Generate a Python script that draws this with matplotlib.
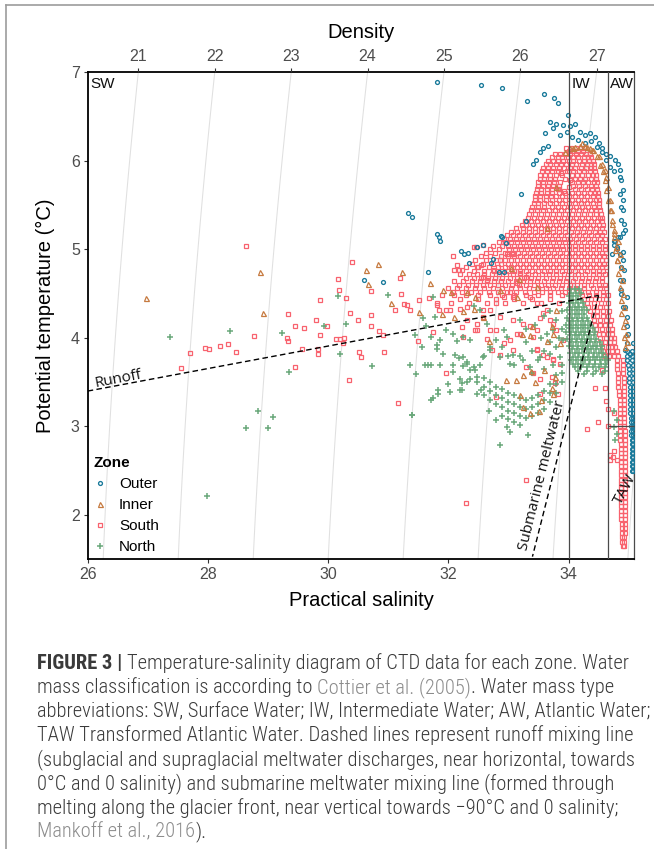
import numpy as np
import matplotlib
matplotlib.use("Agg")
import matplotlib.pyplot as plt
from matplotlib.lines import Line2D
from matplotlib import font_manager

plt.rcParams['font.family'] = ['Liberation Sans', 'DejaVu Sans']

# ---------------- data (salinity, temperature) ----------------
zones = ['Outer', 'Inner', 'South', 'North']
zone_colors = {'Outer': '#18799a', 'Inner': '#c67a40', 'South': '#f8626e', 'North': '#6aa87b'}

outer_scatter = [
    (31.82, 6.89), (32.54, 6.86), (32.90, 6.82), (33.31, 6.68), (33.59, 6.75),
    (33.76, 6.71), (33.83, 6.65), (33.99, 6.52), (33.69, 6.44), (33.74, 6.37),
    (33.61, 6.31), (33.66, 6.17), (33.57, 6.14), (33.53, 6.10), (33.46, 6.01),
    (33.41, 5.97), (33.21, 5.62), (33.29, 5.32), (32.89, 5.14), (31.33, 5.41),
    (31.40, 5.37), (31.81, 5.17), (31.85, 5.14), (31.87, 5.10), (32.57, 5.05),
    (32.48, 5.03), (32.88, 5.15), (32.96, 5.07), (32.21, 4.98), (32.26, 4.95),
    (32.32, 4.96), (32.34, 4.85), (32.74, 4.89), (32.71, 4.85), (32.85, 4.75),
    (32.93, 4.74), (31.67, 4.75), (30.60, 4.65), (30.92, 4.63), (33.86, 6.29),
]
outer_profile = [
    (33.80, 6.42), (33.91, 6.40), (34.02, 6.39), (34.11, 6.42), (34.19, 6.33),
    (34.27, 6.29), (34.36, 6.31), (34.44, 6.27), (34.50, 6.20), (34.56, 6.14),
    (34.63, 6.08), (34.69, 6.05), (34.77, 6.01), (34.83, 5.97), (34.86, 5.90),
    (33.97, 6.33), (34.05, 6.27), (34.16, 6.23), (34.27, 6.20), (34.38, 6.22),
    (34.47, 6.16), (34.55, 6.10), (34.63, 6.01), (34.69, 5.93), (34.75, 5.88),
    (34.88, 5.78), (34.86, 5.82), (34.91, 5.67), (34.86, 5.63), (34.91, 5.56),
    (34.87, 5.48), (34.90, 5.44), (34.88, 5.33), (34.92, 5.29), (34.94, 5.22),
    (34.91, 5.18), (34.86, 5.14), (34.83, 5.14), (34.77, 5.10), (34.75, 5.09),
    (34.80, 5.03), (34.75, 5.05), (34.80, 5.00), (34.86, 4.95), (34.72, 4.95),
    (34.91, 4.97), (34.90, 4.88), (34.88, 4.80), (34.92, 4.77), (34.86, 4.65),
    (34.91, 4.65), (34.88, 4.54), (34.88, 4.50), (34.97, 4.46), (34.91, 4.35),
    (34.94, 4.35), (34.97, 4.24), (34.98, 4.13), (34.99, 4.05), (34.97, 3.94),
    (34.94, 3.86), (35.02, 3.82), (35.08, 3.94),
]
outer_deep_t = [3.85, 3.80, 3.75, 3.70, 3.65, 3.60, 3.55, 3.50, 3.45, 3.40,
                3.35, 3.30, 3.25, 3.20, 3.15, 3.10, 3.05, 3.00, 2.95, 2.90,
                2.85, 2.80, 2.75, 2.70, 2.65, 2.60, 2.55, 2.50]
outer_deep_s_left = [34.97, 34.97, 34.98, 34.99, 35.00, 35.00, 35.01, 35.01, 35.02, 35.02,
                     35.02, 35.03, 35.03, 35.03, 35.03, 35.04, 35.04, 35.04, 35.04, 35.04,
                     35.05, 35.05, 35.05, 35.05, 35.05, 35.05, 35.05, 35.05]
outer_deep_s_right = [35.05, 35.06, 35.06, 35.07, 35.07, 35.07, 35.07, 35.08, 35.08, 35.08,
                      35.08, 35.08, 35.08, 35.08, 35.08, 35.08, 35.08, 35.08, 35.08, 35.08,
                      35.08, 35.08, 35.08, 35.08, 35.08, 35.08, 35.08, 35.07]

inner_profile = [
    (34.02, 6.15), (34.08, 6.14), (34.11, 6.16), (34.19, 6.17), (34.22, 6.20),
    (34.30, 6.16), (34.39, 6.12), (34.41, 6.12), (34.47, 6.05), (34.50, 6.05),
    (34.52, 5.95), (34.55, 5.97), (34.58, 5.88), (34.61, 5.90), (34.61, 5.78),
    (34.63, 5.82), (34.63, 5.67), (34.66, 5.71), (34.66, 5.56), (34.69, 5.56),
    (34.70, 5.44), (34.69, 5.44), (34.72, 5.33), (34.72, 5.29), (34.75, 5.22),
    (34.75, 5.14), (34.76, 5.18), (34.77, 4.99), (34.79, 5.03), (34.80, 4.88),
    (34.81, 4.88), (34.83, 4.73), (34.86, 4.58), (34.87, 4.43), (34.88, 4.28),
    (34.91, 4.13), (34.92, 4.01), (34.94, 3.90), (34.82, 5.10), (34.85, 4.95),
    (34.87, 4.80), (34.89, 4.65), (34.91, 4.50), (34.93, 4.35), (34.94, 4.20),
    (34.96, 4.05), (34.97, 3.95), (33.95, 6.10), (34.27, 6.17), (34.35, 6.14),
]
inner_scatter = [
    (26.97, 4.45), (28.87, 4.74), (28.91, 4.28), (30.63, 4.77), (30.67, 4.61),
    (30.83, 4.84), (31.04, 4.40), (31.23, 4.74), (31.52, 4.29), (31.70, 4.62),
    (31.90, 4.27), (31.91, 4.54), (32.04, 4.52), (32.09, 4.24), (32.25, 4.30),
    (32.31, 4.52), (32.42, 4.33), (32.45, 4.46), (32.57, 4.24), (32.67, 3.97),
    (32.86, 4.54), (32.96, 3.53), (33.04, 4.79), (33.13, 3.52), (33.14, 4.46),
    (33.17, 4.66), (33.19, 3.35), (33.22, 4.05), (33.25, 3.58), (33.25, 3.22),
    (33.36, 3.15), (33.36, 4.03), (33.38, 3.63), (33.39, 4.14), (33.44, 3.50),
    (33.47, 4.58), (33.51, 3.18), (33.55, 3.30), (33.59, 3.64), (33.64, 3.97),
    (33.64, 5.24), (33.72, 3.43), (33.72, 4.14), (33.75, 3.37), (33.75, 4.05),
    (33.77, 3.56), (33.80, 4.31), (33.80, 5.71), (33.86, 3.94),
]

south_scatter = [
    (27.56, 3.66), (27.71, 3.83), (27.96, 3.89), (28.02, 3.88), (28.20, 3.91),
    (28.34, 3.93), (28.47, 3.84), (28.64, 5.04), (28.76, 4.02), (29.31, 4.00),
    (29.33, 3.97), (29.34, 4.27), (29.45, 4.13), (29.45, 3.67), (29.56, 3.88),
    (29.60, 4.11), (29.80, 4.20), (29.84, 3.88), (29.84, 3.82), (29.87, 4.03),
    (29.87, 4.43), (29.98, 4.13), (30.13, 3.99), (30.16, 4.67), (30.18, 4.54),
    (30.20, 3.99), (30.25, 3.94), (30.27, 4.00), (30.29, 4.45), (30.34, 3.53),
    (30.36, 4.28), (30.39, 4.86), (30.50, 4.20), (30.52, 3.84), (30.54, 3.78),
    (30.71, 4.53), (30.71, 4.26), (30.71, 4.14), (30.85, 4.08), (30.92, 4.03),
    (30.93, 3.84), (31.11, 4.31), (31.16, 3.26), (31.20, 4.68), (31.22, 4.50),
    (31.27, 4.38), (31.31, 4.37), (31.36, 4.31), (31.50, 3.96), (31.52, 4.43),
    (31.68, 4.45), (31.75, 4.07), (31.81, 4.37), (31.84, 4.31), (31.97, 4.31),
    (31.97, 3.60), (32.07, 4.92), (32.10, 4.77), (32.14, 4.82), (32.17, 4.77),
    (32.23, 4.77), (32.46, 5.03), (32.20, 4.33), (32.31, 4.20), (32.45, 4.09),
    (32.25, 4.01), (32.22, 4.12), (32.29, 2.14), (32.64, 3.99), (32.72, 3.86),
    (32.80, 3.33), (32.86, 3.81), (33.08, 3.86), (33.19, 4.05), (33.47, 3.86),
    (33.58, 3.81), (33.75, 3.75), (33.86, 3.71), (33.08, 4.20), (32.86, 4.24),
    (32.58, 4.31), (32.31, 4.35), (32.03, 4.31), (31.81, 4.39), (33.53, 4.22),
    (33.64, 4.31), (33.75, 4.16), (33.30, 3.67), (33.41, 3.60), (33.72, 3.56),
    (33.53, 3.54), (33.78, 3.49), (33.53, 3.37), (33.83, 3.37), (33.30, 2.39),
    (34.30, 2.97), (34.49, 3.05), (34.44, 3.44), (34.61, 3.43), (34.62, 3.29),
    (34.66, 3.20), (34.66, 3.01), (34.55, 3.64), (34.75, 3.15), (34.69, 2.68),
    (34.76, 2.72), (34.74, 2.66), (34.69, 2.62), (34.80, 2.62),
    (32.42, 5.03), (32.58, 5.05), (32.47, 4.80), (32.55, 4.82), (32.58, 4.69),
    (32.64, 4.65), (32.75, 4.77), (32.86, 4.88), (32.97, 4.95), (33.08, 4.95),
    (33.19, 4.73), (33.30, 4.69), (33.14, 4.62), (33.03, 4.52), (32.92, 4.46),
    (32.80, 4.39), (32.69, 4.31), (32.58, 4.24), (32.47, 4.16), (32.47, 4.09),
    (33.08, 4.46), (33.36, 4.46), (33.47, 4.39), (33.58, 4.28), (33.69, 4.20),
    (33.80, 4.09), (33.91, 3.98), (33.47, 4.09), (33.36, 4.13), (33.25, 4.16),
    (33.14, 4.05), (33.03, 3.98), (32.92, 3.94), (32.69, 4.09), (32.80, 4.09),
    (33.41, 4.01), (33.47, 3.88), (33.64, 3.79), (33.75, 3.76),
    (33.86, 5.76), (33.95, 5.80), (34.00, 5.70), (33.92, 5.66), (33.88, 5.86),
    (34.00, 5.88), (33.84, 5.68), (34.02, 5.78),
]
south_dome_t = [6.15, 6.08, 6.00, 5.92, 5.84, 5.76, 5.68, 5.60, 5.52, 5.44, 5.36,
                5.28, 5.20, 5.12, 5.04, 4.96, 4.88, 4.80, 4.72, 4.64, 4.56, 4.48,
                4.40, 4.30, 4.20, 4.10, 4.00, 3.90, 3.80]
south_dome_s = [
    [33.96, 34.04, 34.12, 34.20, 34.26],
    [33.78, 33.86, 33.95, 34.03, 34.12, 34.20, 34.29, 34.35],
    [33.66, 33.74, 33.83, 33.91, 34.00, 34.08, 34.17, 34.26, 34.34, 34.40],
    [33.58, 33.66, 33.75, 33.84, 33.93, 34.02, 34.11, 34.20, 34.29, 34.38, 34.43],
    [33.53, 33.61, 33.70, 33.80, 33.90, 34.05, 34.14, 34.23, 34.32, 34.41, 34.46],
    [33.50, 33.58, 33.67, 33.76, 34.06, 34.15, 34.24, 34.33, 34.42, 34.47],
    [33.47, 33.55, 33.64, 33.73, 33.82, 34.10, 34.20, 34.30, 34.39, 34.48],
    [33.45, 33.53, 33.62, 33.71, 33.80, 33.90, 34.00, 34.10, 34.20, 34.30, 34.40, 34.49],
    [33.42, 33.50, 33.60, 33.70, 33.80, 33.90, 34.00, 34.10, 34.20, 34.30, 34.40, 34.50],
    [33.38, 33.47, 33.57, 33.67, 33.77, 33.87, 33.97, 34.07, 34.17, 34.27, 34.37, 34.46, 34.53],
    [33.32, 33.42, 33.52, 33.62, 33.72, 33.82, 33.92, 34.02, 34.12, 34.22, 34.32, 34.42, 34.52, 34.56],
    [33.22, 33.30, 33.40, 33.50, 33.60, 33.70, 33.80, 33.90, 34.00, 34.10, 34.20, 34.30, 34.40,
     34.50, 34.57],
    [33.05, 33.14, 33.24, 33.34, 33.44, 33.54, 33.64, 33.74, 33.84, 33.94, 34.04, 34.14, 34.24,
     34.34, 34.44, 34.52, 34.59],
    [32.92, 33.02, 33.12, 33.22, 33.32, 33.42, 33.52, 33.62, 33.72, 33.82, 33.92, 34.02, 34.12,
     34.22, 34.32, 34.42, 34.52, 34.60],
    [32.75, 32.90, 33.00, 33.10, 33.20, 33.30, 33.40, 33.50, 33.60, 33.70, 33.80, 33.90, 34.00,
     34.10, 34.20, 34.30, 34.40, 34.50, 34.61],
    [32.62, 32.78, 32.95, 33.06, 33.16, 33.26, 33.36, 33.46, 33.56, 33.66, 33.76, 33.86, 33.96,
     34.06, 34.16, 34.26, 34.36, 34.46, 34.56, 34.62],
    [32.45, 32.62, 32.80, 32.95, 33.05, 33.15, 33.25, 33.35, 33.45, 33.55, 33.65, 33.75, 33.85,
     33.95, 34.05, 34.15, 34.25, 34.35, 34.45, 34.55, 34.62],
    [32.30, 32.50, 32.68, 32.82, 32.95, 33.05, 33.15, 33.25, 33.35, 33.45, 33.55, 33.65, 33.75,
     33.85, 33.95, 34.05, 34.15, 34.25, 34.35, 34.45, 34.55, 34.62],
    [32.20, 32.35, 32.48, 32.60, 32.72, 32.84, 32.96, 33.08, 33.20, 33.32, 33.44, 33.56, 33.68,
     33.80, 33.92, 34.04, 34.16, 34.28, 34.40, 34.50, 34.60],
    [32.10, 32.25, 32.40, 32.52, 32.64, 32.76, 32.88, 33.00, 33.12, 33.24, 33.36, 33.48, 33.60,
     33.72, 33.84, 33.96, 34.08, 34.20, 34.32, 34.44, 34.56],
    [32.00, 32.15, 32.30, 32.45, 32.60, 32.75, 32.90, 33.05, 33.20, 33.35, 33.50, 33.62, 33.75,
     33.88, 34.00, 34.12, 34.26, 34.40, 34.52, 34.62],
    [31.90, 32.10, 32.30, 32.50, 32.70, 32.90, 33.10, 33.30, 33.50, 33.70, 33.90, 34.22, 34.34,
     34.46, 34.58, 34.66],
    [32.05, 32.35, 32.65, 32.95, 33.25, 33.55, 33.85, 34.30, 34.42, 34.54, 34.66],
    [34.36, 34.48, 34.58, 34.68],
    [34.42, 34.52, 34.62, 34.70],
    [34.46, 34.56, 34.66, 34.72],
    [34.52, 34.62, 34.70, 34.76],
    [34.56, 34.65, 34.72, 34.78],
    [34.60, 34.68, 34.76, 34.82],
]
# second, staggered set of casts filling the dome
south_dome2_t = [6.11, 6.04, 5.96, 5.88, 5.80, 5.72, 5.64, 5.56, 5.48, 5.40, 5.32,
                 5.24, 5.16, 5.08, 5.00, 4.92, 4.84, 4.76, 4.68, 4.60, 4.52, 4.44,
                 4.35, 4.25, 4.15, 4.05, 3.95, 3.85]
south_dome2_s = [
    [34.00, 34.08, 34.16, 34.24],
    [33.72, 33.82, 33.90, 33.99, 34.08, 34.16, 34.25, 34.33, 34.38],
    [33.62, 33.70, 33.79, 33.88, 33.96, 34.05, 34.13, 34.22, 34.30, 34.37, 34.42],
    [33.56, 33.64, 33.73, 33.82, 33.97, 34.08, 34.17, 34.26, 34.35, 34.44],
    [33.52, 33.60, 33.69, 33.78, 34.10, 34.19, 34.28, 34.37, 34.45],
    [33.49, 33.57, 33.66, 33.75, 33.84, 34.08, 34.18, 34.28, 34.37, 34.46],
    [33.46, 33.55, 33.64, 33.73, 33.84, 33.95, 34.05, 34.15, 34.25, 34.35, 34.44, 34.49],
    [33.44, 33.52, 33.62, 33.72, 33.85, 33.95, 34.05, 34.15, 34.25, 34.35, 34.45, 34.50],
    [33.40, 33.50, 33.60, 33.72, 33.82, 33.92, 34.02, 34.12, 34.22, 34.32, 34.42, 34.51],
    [33.35, 33.45, 33.55, 33.65, 33.75, 33.85, 33.95, 34.05, 34.15, 34.25, 34.35, 34.45, 34.54],
    [33.27, 33.37, 33.47, 33.57, 33.67, 33.77, 33.87, 33.97, 34.07, 34.17, 34.27, 34.37, 34.47,
     34.56],
    [33.12, 33.25, 33.35, 33.45, 33.55, 33.65, 33.75, 33.85, 33.95, 34.05, 34.15, 34.25, 34.35,
     34.45, 34.55],
    [32.98, 33.07, 33.17, 33.27, 33.37, 33.47, 33.57, 33.67, 33.77, 33.87, 33.97, 34.07, 34.17,
     34.27, 34.37, 34.47, 34.56],
    [32.85, 32.95, 33.05, 33.15, 33.25, 33.35, 33.45, 33.55, 33.65, 33.75, 33.85, 33.95, 34.05,
     34.15, 34.25, 34.35, 34.45, 34.56],
    [32.70, 32.85, 33.01, 33.11, 33.21, 33.31, 33.41, 33.51, 33.61, 33.71, 33.81, 33.91, 34.01,
     34.11, 34.21, 34.31, 34.41, 34.51, 34.60],
    [32.55, 32.70, 32.87, 33.00, 33.10, 33.20, 33.30, 33.40, 33.50, 33.60, 33.70, 33.80, 33.90,
     34.00, 34.10, 34.20, 34.30, 34.40, 34.50, 34.59],
    [32.40, 32.58, 32.75, 32.88, 33.00, 33.10, 33.20, 33.30, 33.40, 33.50, 33.60, 33.70, 33.80,
     33.90, 34.00, 34.10, 34.20, 34.30, 34.40, 34.50, 34.59],
    [32.42, 32.60, 32.76, 32.89, 33.00, 33.10, 33.20, 33.30, 33.40, 33.50, 33.60, 33.70, 33.80,
     33.90, 34.00, 34.10, 34.20, 34.30, 34.40, 34.50, 34.58],
    [32.30, 32.42, 32.54, 32.66, 32.78, 32.90, 33.02, 33.14, 33.26, 33.38, 33.50, 33.62, 33.74,
     33.86, 33.98, 34.10, 34.22, 34.34, 34.46, 34.56],
    [32.18, 32.32, 32.46, 32.58, 32.70, 32.82, 32.94, 33.06, 33.18, 33.30, 33.42, 33.54, 33.66,
     33.78, 33.90, 34.02, 34.14, 34.26, 34.38, 34.50, 34.60],
    [32.08, 32.22, 32.38, 32.52, 32.68, 32.82, 32.98, 33.12, 33.28, 33.42, 33.56, 33.70, 33.82,
     33.95, 34.20, 34.32, 34.45, 34.58],
    [32.20, 32.50, 32.80, 33.10, 33.40, 33.70, 34.26, 34.38, 34.50, 34.62],
    [34.33, 34.43, 34.53, 34.63],
    [34.40, 34.48, 34.57, 34.66],
    [34.44, 34.52, 34.61, 34.69],
    [34.50, 34.58, 34.66, 34.73],
    [34.54, 34.61, 34.69, 34.76],
    [34.58, 34.65, 34.73, 34.80],
]
south_taw_t = [3.75, 3.70, 3.65, 3.60, 3.55, 3.50, 3.45, 3.40, 3.35, 3.30, 3.25,
               3.20, 3.15, 3.10, 3.05, 3.00, 2.95, 2.90, 2.85, 2.80, 2.75, 2.70,
               2.65, 2.60, 2.55, 2.50, 2.45, 2.40, 2.35, 2.30, 2.25, 2.20, 2.15,
               2.10, 2.05, 2.00, 1.95, 1.90, 1.85, 1.80, 1.75, 1.70, 1.65]
south_taw_s_left = [34.80, 34.81, 34.81, 34.82, 34.82, 34.83, 34.83, 34.84, 34.84, 34.85, 34.85,
                    34.85, 34.85, 34.86, 34.86, 34.86, 34.86, 34.86, 34.86, 34.87, 34.87, 34.87,
                    34.87, 34.87, 34.87, 34.87, 34.87, 34.88, 34.88, 34.88, 34.88, 34.88, 34.88,
                    34.88, 34.88, 34.88, 34.88, 34.89, 34.89, 34.89, 34.89, 34.89, 34.90]
south_taw_s_right = [34.90, 34.90, 34.91, 34.91, 34.92, 34.92, 34.92, 34.92, 34.93, 34.93, 34.93,
                     34.93, 34.93, 34.93, 34.93, 34.93, 34.94, 34.94, 34.94, 34.94, 34.94, 34.94,
                     34.94, 34.94, 34.94, 34.94, 34.94, 34.94, 34.94, 34.94, 34.94, 34.94, 34.94,
                     34.94, 34.94, 34.94, 34.94, 34.94, 34.94, 34.94, 34.93, 34.93, 34.92]

north_scatter = [
    (27.37, 4.01), (27.99, 2.22), (28.36, 4.08), (28.64, 2.98), (28.83, 3.18),
    (29.00, 2.98), (29.09, 3.11), (29.24, 4.06), (29.35, 3.61), (29.94, 4.14),
    (30.16, 4.47), (30.19, 3.82), (30.30, 4.16), (30.73, 3.68), (30.99, 4.48),
    (31.36, 3.70), (31.40, 3.13), (31.45, 4.03), (31.47, 3.59), (31.58, 4.22),
    (31.63, 4.13), (31.66, 3.70), (31.72, 4.01), (31.72, 3.30), (31.75, 4.46),
    (31.78, 4.24), (31.81, 3.92), (31.83, 3.37), (31.86, 3.98), (31.87, 3.69),
    (31.97, 4.09), (32.00, 3.48), (32.07, 3.70), (32.08, 4.05), (32.11, 3.81),
    (32.14, 3.96), (32.19, 3.41), (32.22, 3.49), (32.25, 4.01), (32.25, 3.79),
    (32.25, 3.68), (32.31, 3.71), (32.31, 3.50), (32.36, 3.98), (32.36, 3.64),
    (32.36, 3.54), (32.42, 3.67), (32.42, 4.36), (32.44, 3.64), (32.47, 3.50),
    (32.47, 3.37), (31.39, 3.13), (31.75, 3.32), (32.03, 3.39), (31.83, 3.41),
    (32.22, 3.41), (32.19, 3.54), (32.08, 3.62), (32.47, 3.56), (32.55, 3.41),
    (32.86, 2.79), (33.03, 2.94), (33.33, 2.90), (32.67, 3.18), (32.80, 3.07),
    (32.97, 2.99), (31.72, 3.69), (31.61, 3.69), (31.56, 3.90), (31.81, 3.88),
    (31.92, 3.82), (32.17, 3.77), (32.31, 3.73), (32.53, 3.69), (32.53, 4.31),
    (32.64, 4.16), (32.92, 4.09), (32.97, 4.01), (32.80, 3.98), (32.69, 3.86),
    (32.58, 3.79), (32.86, 3.79), (33.08, 3.81), (33.25, 3.75), (33.03, 3.71),
    (33.36, 3.67), (33.53, 3.79), (33.69, 3.82), (33.80, 3.90), (33.91, 3.98),
    (33.86, 3.79), (33.75, 4.09), (33.20, 4.20), (33.30, 4.10), (33.45, 4.15),
    (33.55, 4.00), (33.65, 4.05), (33.70, 3.95), (33.85, 4.00), (33.60, 3.85),
    (33.50, 3.75), (33.40, 3.85), (33.30, 3.95), (33.20, 3.80), (33.10, 3.70),
    (33.00, 3.80), (32.90, 3.90), (32.70, 3.90), (32.60, 3.80), (33.40, 3.60),
    (33.60, 3.65), (33.75, 3.70), (33.90, 4.10), (33.90, 4.30), (33.80, 4.20),
    (33.70, 4.30), (33.60, 4.25), (34.75, 3.18), (34.80, 3.07), (34.75, 2.99),
    (34.80, 2.92), (34.77, 2.85),
]
north_band_s = [32.6, 32.7, 32.8, 32.9, 33.0, 33.1, 33.2, 33.3, 33.4, 33.5, 33.6, 33.7, 33.8, 33.9]
north_band_t = [
    [3.55, 3.45, 3.35], [3.50, 3.40, 3.30], [3.45, 3.35, 3.25], [3.42, 3.32, 3.22, 3.12],
    [3.38, 3.28, 3.18, 3.08], [3.35, 3.25, 3.15, 3.05], [3.32, 3.22, 3.12, 3.02],
    [3.30, 3.20, 3.10], [3.32, 3.22, 3.12], [3.35, 3.25, 3.15], [3.40, 3.30, 3.20],
    [3.48, 3.38, 3.28], [3.58, 3.48, 3.38], [3.70, 3.60, 3.50],
]
north_iw_t = [4.55, 4.51, 4.47, 4.43, 4.39, 4.35, 4.31, 4.27, 4.23, 4.19, 4.15, 4.11, 4.07,
              4.03, 3.99, 3.95, 3.91, 3.87, 3.83, 3.79, 3.75, 3.71, 3.67, 3.63, 3.59]
north_iw_s = [
    [34.02, 34.10, 34.18],
    [34.04, 34.12, 34.20],
    [34.00, 34.08, 34.16],
    [34.04, 34.12, 34.20],
    [34.00, 34.08, 34.16, 34.24],
    [34.02, 34.10, 34.18, 34.26],
    [33.98, 34.06, 34.14, 34.22, 34.30],
    [34.02, 34.10, 34.18, 34.26],
    [33.98, 34.06, 34.14, 34.22, 34.30],
    [34.00, 34.08, 34.16, 34.24, 34.32],
    [33.96, 34.04, 34.12, 34.20, 34.28, 34.36],
    [34.00, 34.08, 34.16, 34.24, 34.32, 34.40],
    [33.96, 34.04, 34.12, 34.20, 34.28, 34.36, 34.44],
    [34.02, 34.10, 34.18, 34.26, 34.34, 34.42],
    [33.98, 34.06, 34.14, 34.22, 34.30, 34.38, 34.46],
    [34.04, 34.12, 34.20, 34.28, 34.36, 34.44, 34.52],
    [34.00, 34.08, 34.16, 34.24, 34.32, 34.40, 34.48, 34.56],
    [34.06, 34.14, 34.22, 34.30, 34.38, 34.46, 34.54],
    [34.02, 34.10, 34.18, 34.26, 34.34, 34.42, 34.50, 34.58],
    [34.08, 34.16, 34.24, 34.32, 34.40, 34.48, 34.56, 34.62],
    [34.04, 34.12, 34.20, 34.28, 34.36, 34.44, 34.52, 34.60, 34.66],
    [34.08, 34.16, 34.24, 34.34, 34.44, 34.54, 34.63],
    [34.10, 34.20, 34.30, 34.40, 34.50, 34.60],
    [34.15, 34.30, 34.45, 34.60],
    [34.25, 34.40, 34.55],
]

# water mass limits (Cottier et al. 2005) and mixing lines
iw_limit, aw_limit, taw_temp = 34.0, 34.65, 3.0
runoff_line_s, runoff_line_t = [26.0, 34.5], [3.40, 4.48]
submarine_line_s, submarine_line_t = [34.5, 33.40], [4.48, 1.53]
density_levels = [21, 22, 23, 24, 25, 26, 27]
sal_ticks = [26, 28, 30, 32, 34]
temp_ticks = [2, 3, 4, 5, 6, 7]


def rows(ts, s_rows):
    return [(s, t) for t, row in zip(ts, s_rows) for s in row]


def sigma0(s, t):
    # UNESCO EOS-80 at surface pressure
    rho_w = (999.842594 + 6.793952e-2 * t - 9.095290e-3 * t**2 + 1.001685e-4 * t**3
             - 1.120083e-6 * t**4 + 6.536332e-9 * t**5)
    a = 8.24493e-1 - 4.0899e-3 * t + 7.6438e-5 * t**2 - 8.2467e-7 * t**3 + 5.3875e-9 * t**4
    b = -5.72466e-3 + 1.0227e-4 * t - 1.6546e-6 * t**2
    return rho_w + a * s + b * s**1.5 + 4.8314e-4 * s**2 - 1000.0


def salinity_at(sig, t):
    lo, hi = 20.0, 40.0
    for _ in range(60):
        mid = 0.5 * (lo + hi)
        if sigma0(mid, t) < sig:
            lo = mid
        else:
            hi = mid
    return 0.5 * (lo + hi)


points = {
    'Outer': outer_scatter + outer_profile
             + list(zip(outer_deep_s_left, outer_deep_t)) + list(zip(outer_deep_s_right, outer_deep_t)),
    'Inner': inner_scatter + inner_profile,
    'South': south_scatter + rows(south_dome_t, south_dome_s) + rows(south_dome2_t, south_dome2_s)
             + list(zip(south_taw_s_left, south_taw_t)) + list(zip(south_taw_s_right, south_taw_t)),
    'North': north_scatter + [(s, t) for s, col in zip(north_band_s, north_band_t) for t in col]
             + rows(north_iw_t, north_iw_s),
}
marker_style = {
    'Outer': dict(marker='o', ms=2.8, mew=0.95),
    'Inner': dict(marker='^', ms=3.6, mew=0.9),
    'South': dict(marker='s', ms=2.9, mew=0.9),
    'North': dict(marker='+', ms=4.4, mew=1.1),
}
draw_order = {'South': 2, 'North': 3, 'Outer': 4, 'Inner': 5}

# ---------------- figure ----------------
W, H = 654, 849
fig = plt.figure(figsize=(W / 100, H / 100), dpi=100)
ax_left, ax_right, ax_top_px, ax_bot = 87.7, 634.3, 72.3, 559.3
ax = fig.add_axes([ax_left / W, 1 - ax_bot / H, (ax_right - ax_left) / W, (ax_bot - ax_top_px) / H])
xlim = (26.0, 26.0 + (ax_right - ax_left) / 60.1)
ax.set_xlim(*xlim)
ax.set_ylim(1.5, 7.0)

# isopycnals
sg = np.linspace(25.0, 36.0, 300)
tg = np.linspace(1.0, 7.5, 120)
SS, TT = np.meshgrid(sg, tg)
ax.contour(SS, TT, sigma0(SS, TT), levels=np.arange(20, 29), colors='#e0e0e0',
           linewidths=0.75, zorder=0.5)

for z in zones:
    s, t = zip(*points[z])
    st = marker_style[z]
    ax.plot(s, t, ls='none', marker=st['marker'], ms=st['ms'], mew=st['mew'],
            mfc='none', mec=zone_colors[z], zorder=draw_order[z])

# water mass boxes
box_kw = dict(color='#4a4a4a', lw=0.9, zorder=6)
ax.axvline(iw_limit, **box_kw)
ax.axvline(aw_limit, **box_kw)
ax.hlines(taw_temp, aw_limit, xlim[1], **box_kw)

# mixing lines
ax.plot(runoff_line_s, runoff_line_t, color='black', lw=1.0, ls=(0, (4, 2.4)), zorder=7)
ax.plot(submarine_line_s, submarine_line_t, color='black', lw=1.0, ls=(0, (4, 2.4)), zorder=7)

ann = dict(family=['Open Sans', 'DejaVu Sans'], fontsize=11, color='#111111', zorder=8)
ax.text(26.51, 3.535, 'Runoff', rotation=10.7, ha='center', va='center', rotation_mode='anchor', **ann)
ax.text(33.56, 2.45, 'Submarine meltwater', rotation=76, ha='center', va='center',
        rotation_mode='anchor', **ann)
ax.text(34.94, 2.29, 'TAW', rotation=62, ha='center', va='center', rotation_mode='anchor', **ann)

lab = dict(fontsize=11, color='#111111', va='top', ha='left', zorder=8)
ax.text(26.04, 6.95, 'SW', **lab)
ax.text(34.06, 6.95, 'IW', **lab)
ax.text(34.69, 6.95, 'AW', **lab)

# axes styling
for side in ['left', 'bottom', 'top']:
    ax.spines[side].set_color('black')
    ax.spines[side].set_linewidth(1.3)
ax.spines['right'].set_color('#4a4a4a')
ax.spines['right'].set_linewidth(0.9)
ax.set_xticks(sal_ticks)
ax.set_yticks(temp_ticks)
ax.tick_params(direction='out', length=3.2, width=0.8, color='#333333', labelcolor='#4d4d4d',
               labelsize=11.5, pad=2.5)

ax_top = ax.twiny()
ax_top.set_xlim(*xlim)
ax_top.set_xticks([salinity_at(k, 7.0) for k in density_levels], labels=[str(k) for k in density_levels])
ax_top.tick_params(direction='out', length=3.2, width=0.8, color='#333333', labelcolor='#4d4d4d',
                   labelsize=11.5, pad=2.5)
for sp in ax_top.spines.values():
    sp.set_visible(False)

ax.text(0.5, -0.084, 'Practical salinity', transform=ax.transAxes, ha='center', va='center',
        fontsize=14.5, color='black')
ax.text(-0.078, 0.5, 'Potential temperature (\u00b0C)', transform=ax.transAxes, ha='center',
        va='center', rotation=90, fontsize=14.5, color='black')
ax.text(0.5, 1.081, 'Density', transform=ax.transAxes, ha='center', va='center',
        fontsize=14.5, color='black')

handles = [Line2D([], [], ls='none', marker=marker_style[z]['marker'], ms=marker_style[z]['ms'],
                  mew=marker_style[z]['mew'], mfc='none', mec=zone_colors[z], label=z) for z in zones]
leg = ax.legend(handles=handles, title='Zone', loc='lower left', frameon=False, fontsize=11,
                title_fontproperties={'weight': 'bold', 'size': 11}, alignment='left',
                handlelength=0.9, handletextpad=0.8, labelspacing=0.45, borderpad=0.2,
                borderaxespad=0.15)
leg.set_zorder(9)

# frame of the figure panel
fig.add_artist(Line2D([6 / W, 6 / W], [0, 1 - 5 / H], transform=fig.transFigure, color='#9c9c9c', lw=1.2))
fig.add_artist(Line2D([6 / W, 1], [1 - 5 / H, 1 - 5 / H], transform=fig.transFigure, color='#9c9c9c', lw=1.2))

# ---------------- caption ----------------
ink, link = '#3a3a3a', '#8c8c8c'
names = {f.name for f in font_manager.fontManager.ttflist}
cap_family = next((f for f in ['Liberation Sans Narrow', 'Roboto Condensed', 'Roboto'] if f in names),
                  'DejaVu Sans')
body = 'light'
caption = [
    [('FIGURE 3 |', 'bold', ink, False), ('Temperature-salinity diagram of CTD data for each zone. Water', body, ink, True)],
    [('mass classification is according to', body, ink, False), ('Cottier et al. (2005)', body, link, True),
     ('. Water mass type', body, ink, False)],
    [('abbreviations: SW, Surface Water; IW, Intermediate Water; AW, Atlantic Water;', body, ink, False)],
    [('TAW Transformed Atlantic Water. Dashed lines represent runoff mixing line', body, ink, False)],
    [('(subglacial and supraglacial meltwater discharges, near horizontal, towards', body, ink, False)],
    [('0\u00b0C and 0 salinity) and submarine meltwater mixing line (formed through', body, ink, False)],
    [('melting along the glacier front, near vertical towards \u221290\u00b0C and 0 salinity;', body, ink, False)],
    [('Mankoff et al., 2016', body, link, False), (').', body, ink, False)],
]
renderer = fig.canvas.get_renderer()
probe = fig.text(0, 0, caption[2][0][0], fontsize=13, family=cap_family, weight=body)
cap_size = 13 * 612 / probe.get_window_extent(renderer).width
probe.remove()
p1 = fig.text(0, 0, 'n n', fontsize=cap_size, family=cap_family, weight=body)
p2 = fig.text(0, 0, 'nn', fontsize=cap_size, family=cap_family, weight=body)
space_px = p1.get_window_extent(renderer).width - p2.get_window_extent(renderer).width
p1.remove()
p2.remove()

for i, line in enumerate(caption):
    x = 37.0
    y = 669.0 + 24.1 * i
    for text, weight, color, space in line:
        if space:
            x += space_px
        t = fig.text(x / W, 1 - y / H, text, fontsize=cap_size, family=cap_family, weight=weight,
                     color=color, ha='left', va='baseline')
        x = t.get_window_extent(renderer).x1

fig.savefig('out.png', dpi=100)
